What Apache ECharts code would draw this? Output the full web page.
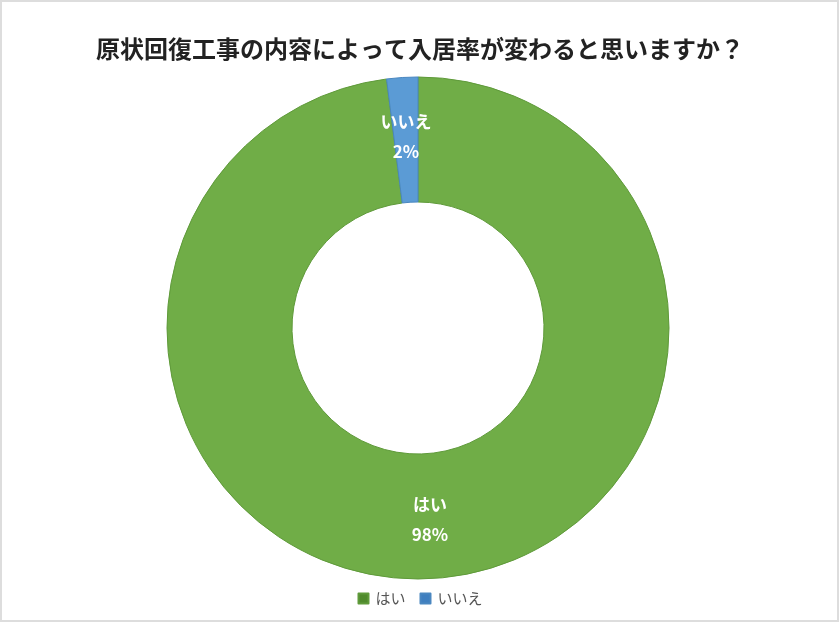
<!DOCTYPE html>
<html><head><meta charset="utf-8">
<script src="https://cdn.jsdelivr.net/npm/echarts@6/dist/echarts.min.js"></script>
<style>html,body{margin:0;padding:0;background:#fff}#c{width:840px;height:623px}</style>
</head><body><div id="c"></div>
<script>
const categories = ['はい', 'いいえ'];
const values = [98, 2];
const colors = ['#70AD47', '#5B9BD5'];
const borders = ['#5f9a3a', '#4a87c0'];
const legendColors = ['#4f8a2c', '#3f7fbf'];
const titleText = '原状回復工事の内容によって入居率が変わると思いますか？';

const chart = echarts.init(document.getElementById('c'));
const font = '"Noto Sans CJK JP", "Noto Sans", sans-serif';
chart.setOption({
  animation: false,
  backgroundColor: '#fff',
  textStyle: { fontFamily: font },
  title: {
    text: titleText, left: 'center', top: 32,
    textStyle: { fontFamily: font, fontSize: 24, fontWeight: 'bold', color: '#222' }
  },
  legend: {
    bottom: 12, left: 'center', itemWidth: 10, itemHeight: 10, itemGap: 14,
    icon: 'rect',
    textStyle: { fontFamily: font, fontSize: 15, color: '#555', padding: [0,0,0,2] },
    data: categories.map((c, i) => ({ name: c, itemStyle: { color: legendColors[i] } }))
  },
  graphic: [{ type: 'rect', shape: { x: 1, y: 1, width: 837, height: 620 }, style: { fill: 'none', stroke: '#ddd', lineWidth: 2 }, silent: true }],
  series: [{
    type: 'pie',
    center: [418, 328],
    radius: [126, 251],
    startAngle: 90,
    clockwise: true,
    avoidLabelOverlap: false,
    label: {
      show: true, position: 'inside', color: '#fff', fontWeight: 'bold', fontSize: 17,
      fontFamily: font, lineHeight: 30,
      formatter: p => p.name + '\n' + p.value + '%'
    },
    labelLine: { show: false },
    data: categories.map((c, i) => ({
      name: c, value: values[i],
      itemStyle: { color: colors[i], borderColor: borders[i], borderWidth: 1 }
    }))
  }]
});
</script></body></html>
